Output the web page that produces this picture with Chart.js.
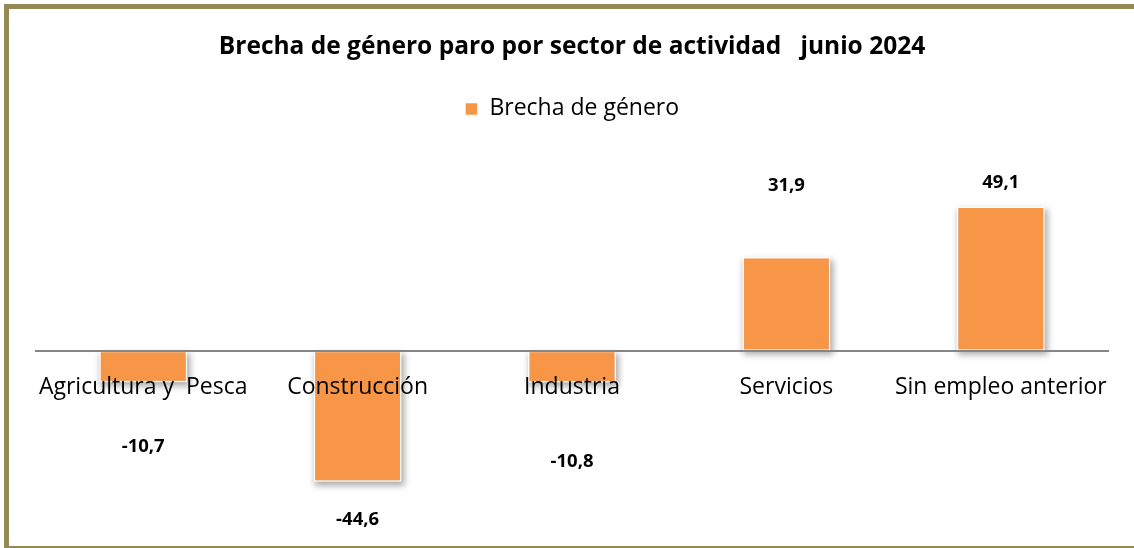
<!DOCTYPE html>
<html>
<head>
<meta charset="utf-8">
<script src="https://cdn.jsdelivr.net/npm/chart.js@4.4.1/dist/chart.umd.min.js"></script>
<style>
  html, body { margin: 0; padding: 0; background: #fff; }
  body { width: 1134px; height: 548px; position: relative; overflow: hidden; }
  #frame {
    position: absolute; left: 4px; top: 4px; width: 1200px; height: 537px;
    border-top: 5px solid #948a54; border-left: 5px solid #948a54; border-bottom: 2px solid #948a54;
  }
  #wrap { position: absolute; left: 0; top: 0; width: 1134px; height: 548px; }
</style>
</head>
<body>
<div id="frame"></div>
<div id="wrap"><canvas id="chart"></canvas></div>
<script>
// Datos
const categories = ['Agricultura y  Pesca', 'Construcción', 'Industria', 'Servicios', 'Sin empleo anterior'];
const brecha = [-10.7, -44.6, -10.8, 31.9, 49.1];
const seriesName = 'Brecha de género';
const titleText = 'Brecha de género paro por sector de actividad   junio 2024';

// desplazamiento de las etiquetas (movidas a mano en el original)
const labelOffsets = [65, 38, 79, -71, -24];

const fmt = (v) => v.toFixed(1).replace('.', ',');

// sombra difusa debajo de cada barra
const barShadow = {
  id: 'barShadow',
  beforeDatasetsDraw(chart) {
    const ctx = chart.ctx;
    const meta = chart.getDatasetMeta(0);
    ctx.save();
    ctx.filter = 'blur(3px)';
    ctx.fillStyle = 'rgba(0,0,0,0.32)';
    meta.data.forEach((bar) => {
      const { x, y, base, width } = bar.getProps(['x', 'y', 'base', 'width'], true);
      const top = Math.min(y, base);
      const h = Math.abs(base - y);
      ctx.fillRect(x - width / 2 + 1, top + 3, width + 2, h + 1);
    });
    ctx.restore();
  }
};

// etiquetas de valor
const valueLabels = {
  id: 'valueLabels',
  afterDraw(chart) {
    const ctx = chart.ctx;
    const meta = chart.getDatasetMeta(0);
    ctx.save();
    ctx.font = "bold 18.5px 'Open Sans', sans-serif";
    ctx.fillStyle = '#000';
    ctx.textAlign = 'center';
    ctx.textBaseline = 'middle';
    meta.data.forEach((bar, i) => {
      const v = chart.data.datasets[0].data[i];
      ctx.fillText(fmt(v), bar.x, bar.y + labelOffsets[i]);
    });
    ctx.restore();
  }
};

new Chart(document.getElementById('chart'), {
  type: 'bar',
  data: {
    labels: categories,
    datasets: [{
      label: seriesName,
      data: brecha,
      backgroundColor: '#f79646',
      borderColor: '#ffffff',
      borderWidth: 1.5,
      borderSkipped: false,
      categoryPercentage: 1,
      barPercentage: 0.41,
    }],
  },
  options: {
    responsive: true,
    maintainAspectRatio: false,
    animation: false,
    layout: { padding: { left: 36, right: 26, bottom: 21 } },
    plugins: {
      title: {
        display: true,
        text: titleText,
        color: '#000',
        font: { family: "'Open Sans', sans-serif", size: 24.5, weight: 'bold' },
        padding: { top: 32, bottom: 26 },
      },
      legend: {
        display: true,
        labels: {
          color: '#000',
          boxWidth: 13,
          boxHeight: 13,
          font: { family: "'Open Sans', sans-serif", size: 23 },
        },
      },
      tooltip: { enabled: false },
    },
    scales: {
      x: {
        position: { y: 0 },
        grid: { display: false, drawTicks: false },
        border: { color: '#868686', width: 2, z: 1 },
        ticks: {
          z: 1,
          color: '#000',
          padding: 23,
          maxRotation: 0,
          autoSkip: false,
          font: { family: "'Open Sans', sans-serif", size: 23 },
        },
      },
      y: {
        display: false,
        min: -60,
        max: 75,
      },
    },
  },
  plugins: [barShadow, valueLabels],
});
</script>
</body>
</html>
